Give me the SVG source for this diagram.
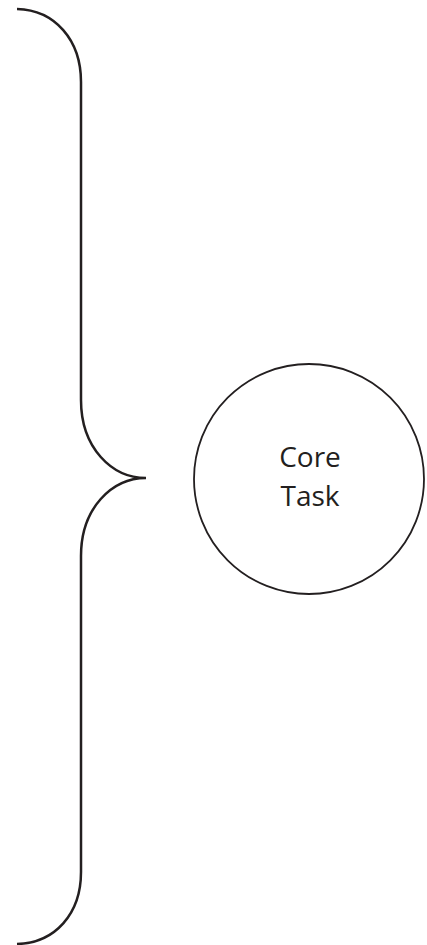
<svg xmlns="http://www.w3.org/2000/svg" width="427" height="945" viewBox="0 0 427 945">
<style>
.brace{fill:none;stroke:#231f20;stroke-width:2.5;stroke-linecap:butt}
.node{fill:#fff;stroke:#231f20;stroke-width:1.8}
.label{font-family:"Open Sans","Noto Sans",sans-serif;font-size:28px;fill:#231f20;text-anchor:middle}
</style>
<rect width="427" height="945" fill="#fff"/>
<g id="connectors">
<path class="brace" d="M17,9 C55,10 81,40 81,82 L81,400 C81,448 112,478 146,478 C112,478 81,508 81,556 L81,872 C81,914 55,943 17,944"/>
</g>
<g id="core-task">
<circle class="node" cx="309" cy="479" r="115"/>
<text class="label" x="310" y="467">Core</text>
<text class="label" x="310" y="506">Task</text>
</g>
</svg>
